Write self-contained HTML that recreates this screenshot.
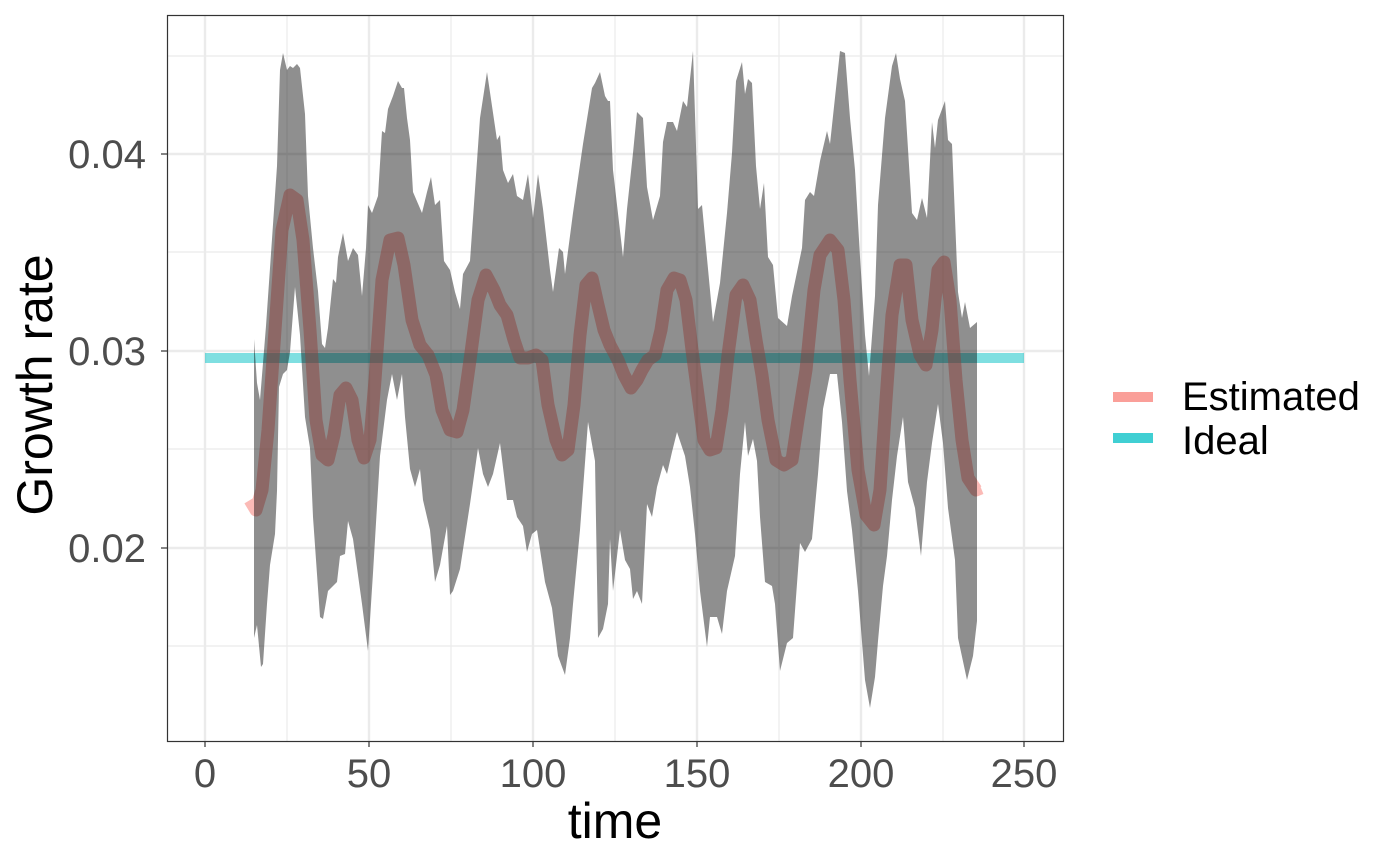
<!DOCTYPE html>
<html><head><meta charset="utf-8"><style>
body{margin:0;background:#fff}
svg{display:block;font-family:"Liberation Sans",Arial,sans-serif}
</style></head><body>
<svg width="1400" height="865" viewBox="0 0 1400 865">
<rect x="0" y="0" width="1400" height="865" fill="#fff"/>
<g stroke="#ebebeb" stroke-width="1.2">
<line x1="167" x2="1063" y1="56" y2="56"/><line x1="167" x2="1063" y1="252" y2="252"/><line x1="167" x2="1063" y1="449" y2="449"/><line x1="167" x2="1063" y1="646" y2="646"/>
<line x1="287" x2="287" y1="15" y2="741"/><line x1="451" x2="451" y1="15" y2="741"/><line x1="615" x2="615" y1="15" y2="741"/><line x1="779" x2="779" y1="15" y2="741"/><line x1="943" x2="943" y1="15" y2="741"/>
</g>
<g stroke="#ebebeb" stroke-width="2.4">
<line x1="167" x2="1063" y1="154" y2="154"/><line x1="167" x2="1063" y1="351" y2="351"/><line x1="167" x2="1063" y1="548" y2="548"/>
<line x1="205" x2="205" y1="15" y2="741"/><line x1="369" x2="369" y1="15" y2="741"/><line x1="533" x2="533" y1="15" y2="741"/><line x1="697" x2="697" y1="15" y2="741"/><line x1="861" x2="861" y1="15" y2="741"/><line x1="1024" x2="1024" y1="15" y2="741"/>
</g>
<line x1="205" x2="1024" y1="358" y2="358" stroke="rgb(0,191,196)" stroke-opacity="0.5" stroke-width="10"/>
<polyline fill="none" stroke="rgb(248,118,109)" stroke-opacity="0.5" stroke-width="13" stroke-linejoin="round" points="250,500 256,510 262,490 268,430 275,330 282,230 290,195 297,200 303,240 310,330 316,420 322,455 328,460 334,435 340,395 346,388 352,400 358,440 364,458 370,440 375,380 382,280 390,240 398,238 404,265 412,320 420,345 428,355 436,375 442,410 450,430 457,432 463,410 470,360 478,300 486,275 494,290 500,305 507,315 514,340 520,358 528,358 536,355 542,360 548,405 556,440 562,455 568,450 574,405 580,335 586,285 592,278 598,305 604,330 610,345 618,360 624,375 631,388 637,380 642,370 648,360 655,355 661,330 667,290 674,278 680,280 686,300 692,350 698,395 704,440 710,450 716,448 722,410 728,355 736,295 743,285 750,300 756,340 762,375 768,420 776,460 784,465 792,460 798,420 806,370 814,290 820,255 830,240 838,250 844,300 850,380 858,470 866,515 874,525 880,490 886,400 892,315 900,265 906,265 912,320 920,355 926,365 932,330 938,270 944,262 950,300 956,380 962,440 968,478 976,490 981,488"/>
<polygon fill="#000" fill-opacity="0.44" points="254,339 257,383 260,400 266,326 272,239 277,166 280,70 283,53 287,70 290,66 293,68 297,64 300,68 305,114 308,196 313,248 318,291 322,344 325,348 328,328 333,279 336,283 338,257 343,233 348,261 353,248 358,255 362,296 366,248 368,205 372,213 378,196 382,131 385,133 388,109 393,96 398,81 402,88 404,88 407,118 410,140 413,192 422,213 427,192 431,177 435,205 440,200 444,261 450,270 455,292 460,309 463,274 470,261 480,118 487,72 497,140 500,135 503,170 508,183 513,174 517,196 523,200 528,174 533,218 538,174 543,209 550,270 553,292 559,248 563,252 565,274 573,213 583,144 592,88 595,83 600,72 605,96 608,101 610,101 613,170 623,257 627,209 633,153 637,112 643,118 647,187 653,220 660,196 663,142 667,122 673,122 677,131 683,101 687,107 693,51 698,209 702,205 713,322 720,283 727,213 732,153 736,81 742,62 745,94 748,79 752,83 756,166 760,209 764,183 768,257 773,265 778,318 787,326 792,296 802,248 805,200 810,192 814,196 820,161 827,131 830,144 840,51 845,53 850,118 855,170 860,257 865,335 869,376 875,296 878,205 885,118 892,66 896,53 900,79 905,101 912,213 917,220 922,198 927,218 932,122 935,148 938,120 945,101 948,140 952,144 958,292 962,318 965,302 970,328 977,322 977,621 973,656 967,680 958,638 955,560 948,508 943,443 938,404 932,443 927,482 921,556 915,508 908,482 903,417 897,456 892,500 887,556 883,586 878,641 875,677 870,708 865,680 858,591 852,530 847,491 842,422 837,374 830,374 823,409 818,474 812,539 805,552 800,543 793,638 787,643 780,671 775,604 772,586 765,582 760,517 757,461 753,439 748,456 745,422 740,474 735,556 727,591 722,634 717,617 710,617 707,647 700,591 695,534 690,487 685,456 677,432 672,452 667,474 663,465 657,487 652,517 647,504 642,604 637,591 633,599 630,569 625,560 620,530 613,591 610,539 608,604 603,629 598,638 595,461 588,422 580,530 573,604 570,638 565,675 558,656 552,608 545,582 537,530 532,534 527,552 523,526 517,517 513,500 507,500 500,443 493,474 488,487 483,474 478,448 470,504 460,569 453,591 450,595 447,526 440,565 435,582 430,530 423,500 420,469 415,487 410,469 405,417 402,374 397,400 392,374 387,400 380,456 373,573 368,651 362,604 353,539 348,521 345,554 340,556 337,582 328,591 323,619 320,617 313,517 310,448 305,417 300,335 295,287 290,352 287,370 283,374 279,387 277,491 275,534 270,565 267,604 263,664 261,667 257,625 254,638"/>
<rect x="167.5" y="15.5" width="896" height="726" fill="none" stroke="#333" stroke-width="1.2"/>
<g stroke="#333" stroke-width="1.2">
<line x1="161" x2="167" y1="154" y2="154"/><line x1="161" x2="167" y1="351" y2="351"/><line x1="161" x2="167" y1="548" y2="548"/>
<line x1="205" x2="205" y1="741" y2="747"/><line x1="369" x2="369" y1="741" y2="747"/><line x1="533" x2="533" y1="741" y2="747"/><line x1="697" x2="697" y1="741" y2="747"/><line x1="861" x2="861" y1="741" y2="747"/><line x1="1024" x2="1024" y1="741" y2="747"/>
</g>
<g fill="#4d4d4d" font-size="40" text-anchor="end">
<text x="146" y="168">0.04</text><text x="146" y="365">0.03</text><text x="146" y="562">0.02</text>
</g>
<g fill="#4d4d4d" font-size="40" text-anchor="middle">
<text x="205" y="787">0</text><text x="369" y="787">50</text><text x="533" y="787">100</text><text x="697" y="787">150</text><text x="861" y="787">200</text><text x="1024" y="787">250</text>
</g>
<text x="615" y="838" font-size="50" text-anchor="middle" fill="#000">time</text>
<text transform="translate(52,385) rotate(-90)" font-size="50" text-anchor="middle" fill="#000">Growth rate</text>
<line x1="1113" x2="1153" y1="397" y2="397" stroke="rgb(248,118,109)" stroke-opacity="0.7" stroke-width="10"/>
<line x1="1113" x2="1153" y1="438" y2="438" stroke="rgb(0,191,196)" stroke-opacity="0.75" stroke-width="10"/>
<text x="1182" y="410" font-size="40" fill="#000">Estimated</text>
<text x="1182" y="454" font-size="40" fill="#000">Ideal</text>
</svg>
</body></html>
